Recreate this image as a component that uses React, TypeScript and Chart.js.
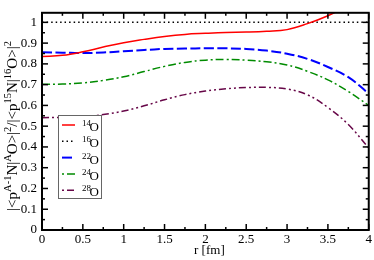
import React, { useEffect, useRef } from "react";
import { Chart, registerables } from "chart.js";
Chart.register(...registerables);

const rValues = [0, 0.25, 0.5, 0.75, 1, 1.25, 1.5, 1.75, 2, 2.25, 2.5, 2.75, 3, 3.25, 3.5, 3.75, 4];
const o14 = [0.836, 0.841, 0.858, 0.881, 0.902, 0.918, 0.932, 0.942, 0.947, 0.951, 0.953, 0.957, 0.965, 0.994, 1.032, 1.08, 1.13];
const o16R = [0, 4];
const o16 = [1.0, 1.0];
const o22 = [0.856, 0.854, 0.852, 0.855, 0.861, 0.867, 0.872, 0.874, 0.875, 0.875, 0.872, 0.864, 0.849, 0.824, 0.785, 0.736, 0.657];
const o24 = [0.702, 0.703, 0.708, 0.720, 0.738, 0.763, 0.788, 0.807, 0.818, 0.821, 0.818, 0.810, 0.795, 0.764, 0.723, 0.667, 0.600];
const o28 = [0.541, 0.542, 0.546, 0.556, 0.573, 0.598, 0.627, 0.652, 0.669, 0.680, 0.686, 0.687, 0.679, 0.651, 0.590, 0.508, 0.395];

const xTicks = [0, 0.5, 1, 1.5, 2, 2.5, 3, 3.5, 4];
const yTicks = [0, 0.1, 0.2, 0.3, 0.4, 0.5, 0.6, 0.7, 0.8, 0.9, 1];
const xMinorStep = 0.25;
const yMinorStep = 0.05;
const legendMass = ["14", "16", "22", "24", "28"];
const legendElement = "O";
const xTitle = "r [fm]";
const yTitleParts: [string, boolean][] = [
  ["|<p", false], ["A-1", true], ["N|", false], ["A", true], ["O>|", false], ["2", true],
  ["/|<p", false], ["15", true], ["N|", false], ["16", true], ["O>|", false], ["2", true],
];

const SERIF = "'Liberation Serif', 'DejaVu Serif', serif";

const styles = [
  { color: "#ff0000", dash: [] as number[], width: 1.5, legendOffset: 0 },
  { color: "#000000", dash: [1.5, 3], width: 1.5, legendOffset: 0 },
  { color: "#0000ff", dash: [10, 3.5], width: 2, legendOffset: 0 },
  { color: "#008b00", dash: [8, 3, 2, 3], width: 1.5, legendOffset: 11 },
  { color: "#670748", dash: [7, 3, 2, 3, 2, 3], width: 1.5, legendOffset: 15 },
];

const decorPlugin = {
  id: "decor",
  afterDraw(chart: any) {
    const ctx: CanvasRenderingContext2D = chart.ctx;
    const { left, right, top, bottom } = chart.chartArea;
    const xs = chart.scales.x;
    const ys = chart.scales.y;
    ctx.save();
    ctx.strokeStyle = "#000";
    ctx.lineWidth = 1.5;
    const line = (a: number, b: number, c: number, d: number) => {
      ctx.beginPath();
      ctx.moveTo(a, b);
      ctx.lineTo(c, d);
      ctx.stroke();
    };
    for (let i = 0; i * xMinorStep <= xs.max + 1e-9; i++) {
      const v = i * xMinorStep;
      const len = i % 2 === 0 ? 6 : 3;
      const px = xs.getPixelForValue(v);
      line(px, bottom, px, bottom - len);
      line(px, top, px, top + len);
    }
    for (let i = 0; i * yMinorStep <= ys.max + 1e-9; i++) {
      const v = i * yMinorStep;
      const len = i % 2 === 0 ? 6 : 3;
      const py = ys.getPixelForValue(v);
      line(left, py, left + len, py);
      line(right, py, right - len, py);
    }
    ctx.lineWidth = 2;
    ctx.strokeRect(left, top, right - left, bottom - top);

    // legend
    const bx = 58, by = 115, bw = 43, bh = 83;
    ctx.fillStyle = "#fff";
    ctx.fillRect(bx, by, bw, bh);
    ctx.strokeStyle = "#666";
    ctx.lineWidth = 1;
    ctx.strokeRect(bx + 0.5, by + 0.5, bw, bh);
    legendMass.forEach((m, i) => {
      const y = 125 + i * 16.3;
      const st = styles[i];
      ctx.strokeStyle = st.color;
      ctx.lineWidth = st.width;
      ctx.setLineDash(st.dash);
      ctx.lineDashOffset = st.legendOffset;
      line(62, y, 75, y);
      ctx.setLineDash([]);
      ctx.lineDashOffset = 0;
      ctx.fillStyle = "#000";
      ctx.textAlign = "left";
      ctx.textBaseline = "alphabetic";
      ctx.font = `9px ${SERIF}`;
      ctx.fillText(m, 82, y + 1);
      ctx.font = `13px ${SERIF}`;
      ctx.fillText(legendElement, 89.5, y + 6);
    });

    // x title
    ctx.fillStyle = "#000";
    ctx.font = `13px ${SERIF}`;
    ctx.textAlign = "center";
    ctx.textBaseline = "alphabetic";
    ctx.fillText(xTitle, (left + right) / 2 + 4, 254);

    // y title
    const mainFont = `15px ${SERIF}`;
    const supFont = `10.5px ${SERIF}`;
    let total = 0;
    yTitleParts.forEach(([t, sup]) => {
      ctx.font = sup ? supFont : mainFont;
      total += ctx.measureText(t).width;
    });
    ctx.save();
    ctx.translate(17, 126 + total / 2);
    ctx.rotate(-Math.PI / 2);
    ctx.textAlign = "left";
    let x = 0;
    yTitleParts.forEach(([t, sup]) => {
      ctx.font = sup ? supFont : mainFont;
      ctx.fillText(t, x, sup ? -6.5 : 0);
      x += ctx.measureText(t).width;
    });
    ctx.restore();
    ctx.restore();
  },
};

export default function App() {
  const ref = useRef<HTMLCanvasElement | null>(null);
  useEffect(() => {
    if (!ref.current) return;
    const series = [o14, o16, o22, o24, o28];
    const datasets = series.map((vals, i) => {
      const xsrc = i === 1 ? o16R : rValues;
      return {
        data: vals.map((v, j) => ({ x: xsrc[j], y: v })),
        borderColor: styles[i].color,
        borderWidth: styles[i].width,
        borderDash: styles[i].dash,
        pointRadius: 0,
        fill: false,
        tension: 0.4,
      };
    });
    const chart = new Chart(ref.current, {
      type: "line",
      data: { datasets },
      options: {
        animation: false,
        responsive: true,
        maintainAspectRatio: false,
        layout: { padding: { top: 2, right: 4, left: 0, bottom: 0 } },
        plugins: { legend: { display: false }, tooltip: { enabled: false } },
        scales: {
          x: {
            type: "linear",
            min: 0,
            max: 4,
            grid: { display: false, drawTicks: false },
            border: { display: false },
            afterBuildTicks: (s: any) => { s.ticks = xTicks.map((v) => ({ value: v })); },
            afterFit: (s: any) => { s.height = 30; },
            ticks: {
              padding: 2,
              color: "#000",
              font: { family: SERIF, size: 13 },
              maxRotation: 0,
              callback: (v: any) => String(v),
            },
          },
          y: {
            type: "linear",
            min: 0,
            max: 1.046,
            grid: { display: false, drawTicks: false },
            border: { display: false },
            afterBuildTicks: (s: any) => { s.ticks = yTicks.map((v) => ({ value: v })); },
            afterFit: (s: any) => { s.width = 42; },
            ticks: {
              padding: 5,
              color: "#000",
              font: { family: SERIF, size: 13 },
              callback: (v: any) => String(Math.round(v * 10) / 10),
            },
          },
        },
      },
      plugins: [decorPlugin],
    });
    return () => chart.destroy();
  }, []);
  return (
    <div style={{ position: "absolute", left: 0, top: 0, width: 374, height: 260, background: "#fff" }}>
      <canvas ref={ref} />
    </div>
  );
}
